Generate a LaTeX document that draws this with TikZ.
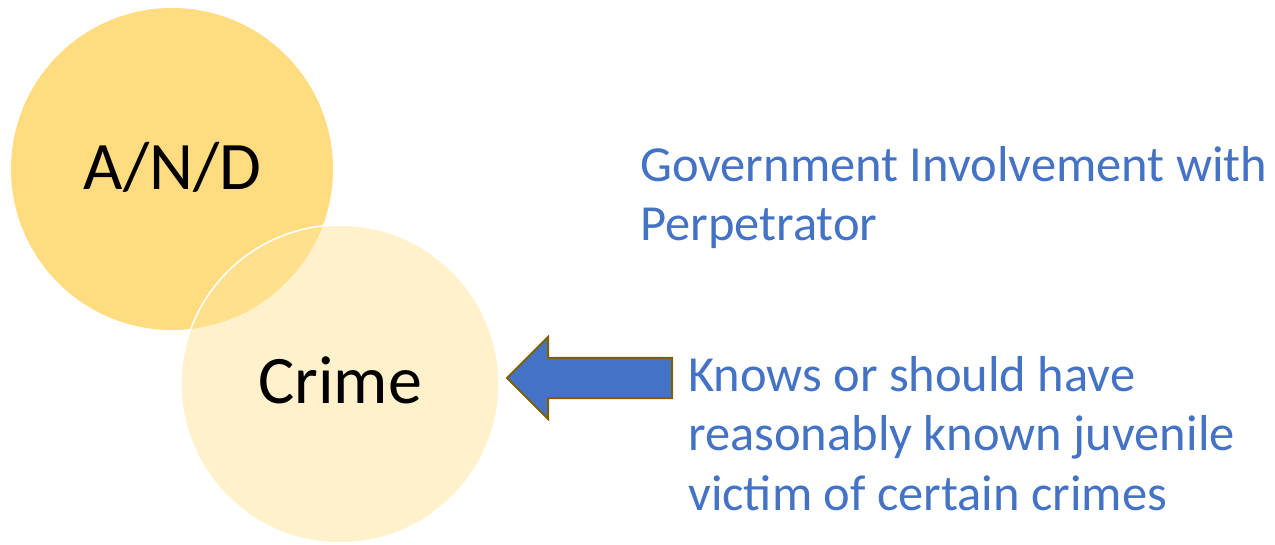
\documentclass[tikz,border=0pt]{standalone}
\usepackage{fontspec}
\setmainfont{Carlito}
\definecolor{andfill}{HTML}{FFDC80}
\definecolor{crimefill}{HTML}{FFE499}
\definecolor{txtblue}{HTML}{4472C4}
\definecolor{arrowedge}{HTML}{7F6000}
\begin{document}
\begin{tikzpicture}[x=1pt,y=-1pt,
  circlabel/.style={font=\fontsize{68}{82}\selectfont, text=black, inner sep=0pt, anchor=base},
  bluetext/.style={font=\fontsize{50.5}{59.5}\selectfont, text=txtblue, inner sep=0pt, align=left, anchor=north west},
  blockarrow/.style={fill=txtblue, draw=arrowedge, line width=2pt, line join=miter}]
\useasboundingbox (0,0) rectangle (1275,545);
\fill[andfill] (172,169) circle (161);
\draw[white, line width=1.5pt, fill=crimefill, fill opacity=0.5] (340,384) circle (159);
\node[circlabel] (and) at (172.5,190) {A/N/D};
\node[circlabel] (crime) at (340,403) {Crime};
\draw[blockarrow] (672,358) -- (548,358) -- (548,337) -- (507,378) -- (548,419) -- (548,398) -- (672,398) -- cycle;
\node[bluetext] (gov) at (640,146) {Government Involvement with\\Perpetrator};
\node[bluetext] (knows) at (688,356) {Knows or should have\\reasonably known juvenile\\victim of certain crimes};
\end{tikzpicture}
\end{document}
